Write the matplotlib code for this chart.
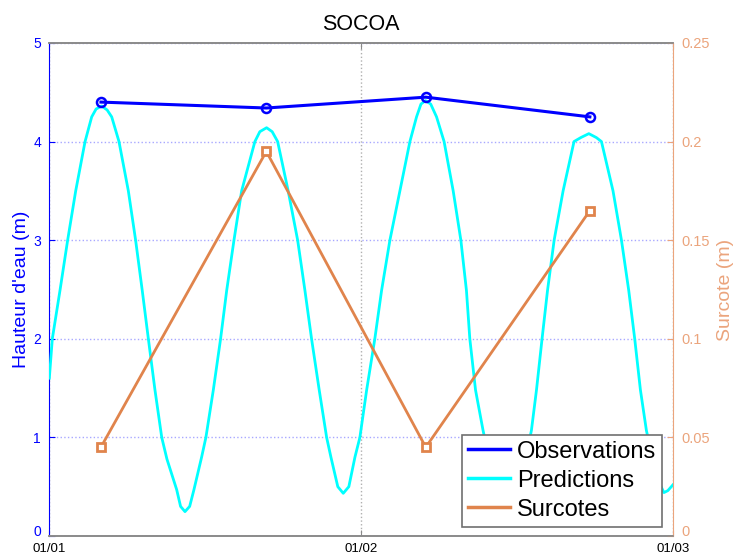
"""
Tide gauge plot for SOCOA: observed high waters, predicted tide and the
surge (surcote) on a second y axis. Saves the figure as out.png
"""
#%% Import libraries ###########################################################
import numpy as np
import matplotlib
matplotlib.use('Agg')
import matplotlib.pyplot as plt
from matplotlib.transforms import ScaledTranslation

#%% Data #######################################################################
# time in hours from 01/01 00:00
pred_hours = [0.0, 0.23, 0.82, 1.41, 2.03, 2.75, 3.26, 3.6, 4.03, 4.45, 4.8,
              5.36, 6.08, 6.64, 7.15, 7.62, 8.13, 8.65, 9.05, 9.8, 10.1, 10.44,
              10.8, 11.13, 11.72, 12.05, 12.62, 13.18, 13.65, 14.21, 14.8,
              15.82, 16.2, 16.72, 17.15, 17.57, 18.38, 19.11, 19.67, 20.18,
              20.77, 21.34, 21.67, 22.2, 22.62, 23.05, 23.52, 23.9, 24.42,
              25.05, 25.57, 26.21, 26.98, 27.75, 28.26, 28.6, 28.95, 29.35,
              29.8, 30.38, 31.08, 31.67, 32.1, 32.36, 32.8, 33.38, 33.9, 34.5,
              35.24, 36.0, 36.6, 37.1, 37.49, 37.92, 38.34, 38.85, 39.54,
              40.38, 40.9, 41.52, 42.1, 42.49, 43.38, 44.03, 44.59, 45.05,
              45.49, 45.95, 46.4, 46.9, 47.3, 47.6, 48.0]
pred_height = [1.6, 2.0, 2.49, 3.0, 3.5, 4.0, 4.25, 4.33, 4.36, 4.32, 4.25,
               4.0, 3.5, 3.0, 2.49, 2.0, 1.48, 1.0, 0.78, 0.47, 0.3, 0.247,
               0.3, 0.47, 0.8, 1.0, 1.48, 2.0, 2.49, 3.0, 3.5,
               4.0, 4.1, 4.14, 4.1, 4.0, 3.5, 3.0, 2.49, 2.0,
               1.48, 1.0, 0.8, 0.5, 0.433, 0.5, 0.8, 1.0, 1.48,
               2.0, 2.49, 3.0, 3.5, 4.0, 4.25, 4.38, 4.415, 4.38,
               4.25, 4.0, 3.5, 3.0, 2.49, 2.0, 1.48, 1.07, 0.75, 0.45,
               0.3, 0.45, 0.75, 1.07, 1.48, 2.0, 2.49, 3.0, 3.5,
               4.0, 4.04, 4.08, 4.04, 4.0, 3.5, 3.0, 2.49, 2.0,
               1.48, 1.07, 0.8, 0.55, 0.44, 0.46, 0.52]

obs_hours = [3.97, 16.7, 28.97, 41.6]
obs_height = [4.40, 4.34, 4.45, 4.25]
surcote = [0.045, 0.195, 0.045, 0.165]

xtick_hours = [0, 24, 48]
xtick_labels = ['01/01', '01/02', '01/03']

#%% Main #######################################################################
def main():
    """
    Main function
    """
    plt.rcParams['font.family'] = ['Liberation Sans', 'DejaVu Sans']
    blue = '#0000FF'
    orange_line = '#E0844C'
    orange_axis = '#EBA47C'
    grey = '#8A8A8A'

    fig = plt.figure(figsize=(7.33, 5.56), dpi=100)
    ax = fig.add_axes([0.0673, 0.036, 0.8509, 0.8868])
    ax2 = ax.twinx()

    #### Hauteur d'eau ####
    l_obs, = ax.plot(obs_hours, obs_height, '-o', color=blue, lw=2.2,
                     markersize=6.5, markerfacecolor='none', markeredgewidth=1.8,
                     zorder=4, label='Observations')
    l_pred, = ax.plot(pred_hours, pred_height, '-', color='#00FFFF', lw=2.0,
                      zorder=3, label='Predictions')
    ax.set_xlim(0, 48)
    ax.set_ylim(0, 5)
    ax.set_yticks(np.arange(0, 6, 1))
    ax.set_xticks(xtick_hours)
    ax.set_xticklabels(xtick_labels)
    ax.set_ylabel("Hauteur d'eau (m)", color=blue, fontsize=14, labelpad=2)
    ax.tick_params(axis='y', direction='in', colors=blue, labelsize=10,
                   length=4, pad=6)
    ax.tick_params(axis='x', direction='in', color=grey, labelcolor='black',
                   labelsize=9.5, length=4, pad=5, top=True)
    ax.yaxis.grid(True, color='#A8A8FF', linestyle=':', linewidth=1.0)
    ax.xaxis.grid(True, color='#B0B0B0', linestyle=':', linewidth=1.0)
    ax.set_axisbelow(True)
    ax.spines['left'].set_color(blue)
    ax.spines['right'].set_visible(False)
    for side in ['top', 'bottom']:
        ax.spines[side].set_color(grey)
        ax.spines[side].set_linewidth(1.2)
    ax.set_title('SOCOA', fontsize=15.5, pad=9)

    #### Surcote ####
    l_sur, = ax2.plot(obs_hours, surcote, '-s', color=orange_line, lw=2.0,
                      markersize=5.5, markerfacecolor='white', markeredgewidth=2.0,
                      label='Surcotes')
    ax2.set_ylim(0, 0.25)
    ax2.set_yticks(np.arange(0, 0.26, 0.05))
    ax2.set_yticklabels(['0', '0.05', '0.1', '0.15', '0.2', '0.25'])
    ax2.set_ylabel('Surcote (m)', color=orange_axis, fontsize=14, labelpad=5)
    ax2.tick_params(axis='y', direction='in', colors=orange_axis,
                    labelsize=10.5, length=4, pad=6)
    ax2.spines['right'].set_color(orange_axis)
    ax2.spines['left'].set_visible(False)
    for side in ['top', 'bottom']:
        ax2.spines[side].set_color(grey)
        ax2.spines[side].set_linewidth(1.2)

    # lift the two "0" labels a touch so they clear the date labels
    lift = ScaledTranslation(0, 4 / 72, fig.dpi_scale_trans)
    for lab in [ax.get_yticklabels()[0], ax2.get_yticklabels()[0]]:
        lab.set_transform(lab.get_transform() + lift)

    #### Legend ####
    leg = ax2.legend([l_obs, l_pred, l_sur], ['Observations', 'Predictions', 'Surcotes'],
                     loc='lower right', bbox_to_anchor=(0.983, 0.019),
                     borderaxespad=0, fontsize=17, fancybox=False,
                     framealpha=1, edgecolor='#707070', handlelength=1.8,
                     handletextpad=0.3, labelspacing=0.3, borderpad=0.25)
    leg.get_frame().set_linewidth(1.2)
    for h in leg.legend_handles:
        h.set_marker('')
        h.set_linewidth(2.5)

    fig.savefig('out.png', dpi=100)

#%% Run main ###################################################################
if __name__ == '__main__':
    main()
